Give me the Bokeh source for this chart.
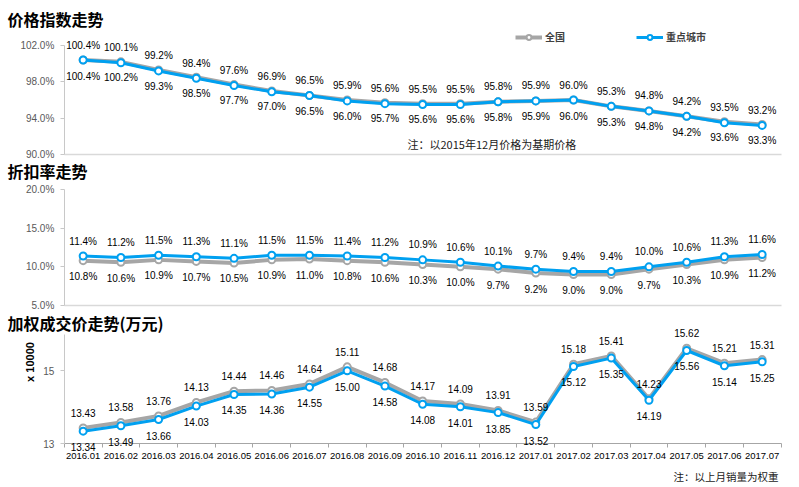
import math
from bokeh.plotting import figure
from bokeh.models import (ColumnDataSource, LabelSet, Label, Legend, LegendItem, Range1d,
                          FixedTicker, PrintfTickFormatter)
from bokeh.layouts import column
from bokeh.embed import file_html
from bokeh.resources import INLINE
from bokeh.core.properties import value

months = ["2016.01", "2016.02", "2016.03", "2016.04", "2016.05", "2016.06", "2016.07",
          "2016.08", "2016.09", "2016.10", "2016.11", "2016.12", "2017.01", "2017.02",
          "2017.03", "2017.04", "2017.05", "2017.06", "2017.07"]

series_names = ["全国", "重点城市"]

# 价格指数 (%)
price_national = [100.4, 100.2, 99.3, 98.5, 97.7, 97.0, 96.5, 96.0, 95.7, 95.6, 95.6,
                  95.8, 95.9, 96.0, 95.3, 94.8, 94.2, 93.6, 93.3]
price_key = [100.4, 100.1, 99.2, 98.4, 97.6, 96.9, 96.5, 95.9, 95.6, 95.5, 95.5,
             95.8, 95.9, 96.0, 95.3, 94.8, 94.2, 93.5, 93.2]
price_ticks = [90, 94, 98, 102]

# 折扣率 (%)
disc_national = [10.8, 10.6, 10.9, 10.7, 10.5, 10.9, 11.0, 10.8, 10.6, 10.3, 10.0,
                 9.7, 9.2, 9.0, 9.0, 9.7, 10.3, 10.9, 11.2]
disc_key = [11.4, 11.2, 11.5, 11.3, 11.1, 11.5, 11.5, 11.4, 11.2, 10.9, 10.6,
            10.1, 9.7, 9.4, 9.4, 10.0, 10.6, 11.3, 11.6]
disc_ticks = [5, 10, 15, 20]

# 加权成交价 (万元)
wprice_national = [13.43, 13.58, 13.76, 14.13, 14.44, 14.46, 14.64, 15.11, 14.68, 14.17,
                   14.09, 13.91, 13.59, 15.18, 15.41, 14.23, 15.62, 15.21, 15.31]
wprice_key = [13.34, 13.49, 13.66, 14.03, 14.35, 14.36, 14.55, 15.00, 14.58, 14.08,
              14.01, 13.85, 13.52, 15.12, 15.35, 14.19, 15.56, 15.14, 15.25]
wprice_ticks = [13, 15]

GRAY = "#A6A6A6"
BLUE = "#00A0F0"
W = 799
N = len(months)
idx = list(range(N))
NUM = "Liberation Sans"
CJK = "Noto Sans CJK SC"

# horizontal layout (pixels): plot area from PL to PR
PL, PR = 63.8, 780.5
CW = (PR - PL) / N
X_START = -0.5 - PL / CW
X_END = N - 0.5 + (W - PR) / CW


def make_fig(h, px_hi, px_lo, ylo, yhi, ticks):
    # px_hi / px_lo: pixel rows (from figure top) where yhi / ylo sit
    ppu = (px_lo - px_hi) / (yhi - ylo)
    p = figure(width=W, height=h, output_backend="svg", toolbar_location=None,
               x_range=Range1d(X_START, X_END),
               y_range=Range1d(ylo - (h - px_lo) / ppu, yhi + px_hi / ppu),
               min_border_left=0, min_border_right=0,
               min_border_top=0, min_border_bottom=0)
    p.title.visible = False
    p.outline_line_color = None
    p.xgrid.visible = False
    p.ygrid.visible = False
    p.yaxis.fixed_location = -0.5
    p.yaxis.bounds = (ylo, yhi)
    p.yaxis.ticker = FixedTicker(ticks=ticks)
    p.yaxis.axis_line_color = "#C8C8C8"
    p.yaxis.major_tick_line_color = "#C8C8C8"
    p.yaxis.minor_tick_line_color = None
    p.yaxis.major_tick_out = 4
    p.yaxis.major_tick_in = 0
    p.yaxis.major_label_standoff = 6
    p.yaxis.major_label_text_font = NUM
    p.yaxis.major_label_text_font_size = "10px"
    p.yaxis.major_label_text_color = "#595959"
    p.xaxis.fixed_location = ylo
    p.xaxis.bounds = (-0.5, N - 0.5)
    return p


def plain_base(p):
    p.xaxis.ticker = FixedTicker(ticks=[])
    p.xaxis.major_tick_line_color = None
    p.xaxis.minor_tick_line_color = None
    p.xaxis.major_label_text_font_size = "0px"
    p.xaxis.axis_line_color = "#D9D9D9"
    p.xaxis.axis_line_width = 1.5


def draw_series(p, gray_vals, blue_vals, gray_txt, blue_txt, gray_up):
    lg = p.line(idx, gray_vals, line_width=4, color=GRAY)
    rg = p.scatter(idx, gray_vals, size=7, marker="circle", fill_color="white",
                   line_color=GRAY, line_width=2)
    lb = p.line(idx, blue_vals, line_width=3, color=BLUE)
    rb = p.scatter(idx, blue_vals, size=7, marker="circle", fill_color="white",
                   line_color=BLUE, line_width=2)
    for vals, txt, up in ((gray_vals, gray_txt, gray_up), (blue_vals, blue_txt, not gray_up)):
        src = ColumnDataSource(dict(x=idx, y=vals, t=txt))
        p.add_layout(LabelSet(x="x", y="y", text="t", source=src,
                              y_offset=15 if up else -16,
                              text_align="center", text_baseline="middle",
                              text_font=value(NUM), text_font_size="10px",
                              text_color="#000000"))
    return lg, rg, lb, rb


def text_at(p, h, x, y_top, text, size, font=CJK, style="normal", align="left",
            angle=0.0, color="#000000"):
    p.add_layout(Label(x=x, y=h - y_top, x_units="screen", y_units="screen", text=text,
                       text_font=font, text_font_style=style, text_font_size=size,
                       text_align=align, text_baseline="middle", angle=angle,
                       text_color=color))


# ---- Panel 1: 价格指数走势  (page rows 0-160)
H1 = 160
p1 = make_fig(H1, 45, 154, 90, 102, price_ticks)
p1.yaxis.formatter = PrintfTickFormatter(format="%.1f%%")
plain_base(p1)
g_line, g_pts, b_line, b_pts = draw_series(
    p1, price_national, price_key,
    [f"{v:.1f}%" for v in price_national], [f"{v:.1f}%" for v in price_key],
    gray_up=False)
text_at(p1, H1, 7, 18, "价格指数走势", "16px", style="bold")
text_at(p1, H1, 407, 143, "注：以2015年12月价格为基期价格", "11px", color="#1A1A1A")
legend = Legend(items=[LegendItem(label=series_names[0], renderers=[g_line, g_pts]),
                       LegendItem(label=series_names[1], renderers=[b_line, b_pts])],
                location=(515, H1 - 44), orientation="horizontal",
                glyph_width=27, glyph_height=12, label_standoff=3, spacing=71,
                padding=0, margin=0, border_line_alpha=0, background_fill_alpha=0,
                label_text_font=CJK, label_text_font_size="10px",
                label_text_font_style="bold", label_text_color="#404040",
                label_height=12)
p1.add_layout(legend)

# ---- Panel 2: 折扣率走势  (page rows 160-312)
H2 = 152
p2 = make_fig(H2, 29, 145, 5, 20, disc_ticks)
p2.yaxis.formatter = PrintfTickFormatter(format="%.1f%%")
plain_base(p2)
draw_series(p2, disc_national, disc_key,
            [f"{v:.1f}%" for v in disc_national], [f"{v:.1f}%" for v in disc_key],
            gray_up=False)
text_at(p2, H2, 7, 10, "折扣率走势", "16px", style="bold")

# ---- Panel 3: 加权成交价走势(万元)  (page rows 312-487)
H3 = 175
p3 = make_fig(H3, 22, 131, 13, 16, wprice_ticks)
draw_series(p3, wprice_national, wprice_key,
            [f"{v:.2f}" for v in wprice_national], [f"{v:.2f}" for v in wprice_key],
            gray_up=True)
p3.xaxis.ticker = FixedTicker(ticks=idx, minor_ticks=[i - 0.5 for i in range(N + 1)])
p3.xaxis.major_label_overrides = {i: m for i, m in enumerate(months)}
p3.xaxis.major_tick_line_color = None
p3.xaxis.major_tick_out = 0
p3.xaxis.major_tick_in = 0
p3.xaxis.minor_tick_out = 4
p3.xaxis.minor_tick_in = 0
p3.xaxis.minor_tick_line_color = "#A6A6A6"
p3.xaxis.axis_line_color = "#A6A6A6"
p3.xaxis.major_label_standoff = 5
p3.xaxis.major_label_text_font = NUM
p3.xaxis.major_label_text_font_size = "9.5px"
p3.xaxis.major_label_text_font_style = "normal"
p3.xaxis.major_label_text_color = "#000000"
text_at(p3, H3, 7, 10, "加权成交价走势(万元)", "16px", style="bold")
text_at(p3, H3, 29, 49.5, "x 10000", "11px", font=NUM, style="bold", align="center",
        angle=math.pi / 2)
text_at(p3, H3, 778, 164, "注：以上月销量为权重", "10.5px", align="right", color="#1A1A1A")

layout = column(p1, p2, p3)
open("out.html", "w").write(file_html(layout, INLINE))
